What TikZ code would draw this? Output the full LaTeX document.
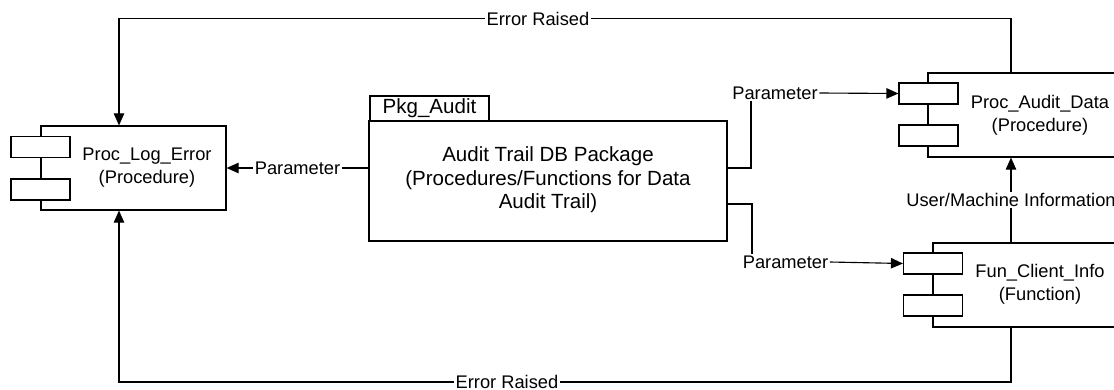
\documentclass[tikz,border=0pt]{standalone}
\usepackage{fontspec}
\setmainfont{Liberation Sans}
\usetikzlibrary{arrows.meta}

\tikzset{
  comp/.style={draw, line width=0.8pt, inner sep=0pt, minimum height=2.1cm},
  port/.style={draw, fill=white, line width=0.8pt, inner sep=0pt, minimum width=1.475cm, minimum height=0.525cm},
  txt/.style={font=\fontsize{13}{16.4}\selectfont, align=center, inner sep=1pt},
  bigtxt/.style={txt, font=\fontsize{14.6}{16.7}\selectfont},
  wire/.style={line width=0.8pt},
  arr/.style={wire, -{Triangle[length=3mm, width=2.6mm]}}
}

\begin{document}
\begin{tikzpicture}[x=0.025cm, y=-0.025cm]  % 1 unit = 1 pixel of the reference

    \useasboundingbox (0,0) rectangle (1114,389);

    % package box with its tab
    \node[comp, minimum width=8.95cm, minimum height=3cm] (pkg) at (548,181) {};
    \node[draw, line width=0.8pt, inner sep=0pt, minimum width=2.975cm, minimum height=0.625cm] (tab) at (429.5,108.5) {};
    \node[bigtxt] (tabtxt) at (tab) {Pkg\_Audit};
    \node[bigtxt] (pkgtxt) at (548,180) {Audit Trail DB Package\\(Procedures/Functions for Data\\Audit Trail)};

    % Proc_Log_Error
    \node[comp, minimum width=4.625cm] (log) at (133.5,168) {};
    \node[port] (logp1) at (40.5,147) {};
    \node[port] (logp2) at (40.5,189.5) {};
    \node[txt] (logtxt) at (147,168) {Proc\_Log\_Error\\(Procedure)};

    % Proc_Audit_Data
    \node[comp, minimum width=4.925cm] (aud) at (1026.5,115) {};
    \node[port] (audp1) at (928.5,93.5) {};
    \node[port] (audp2) at (928.5,135.5) {};
    \node[txt] (audtxt) at (1040,115) {Proc\_Audit\_Data\\(Procedure)};

    % Fun_Client_Info
    \node[comp, minimum width=4.925cm] (cli) at (1031.5,285) {};
    \node[port] (clip1) at (933,263.5) {};
    \node[port] (clip2) at (933,305.5) {};
    \node[txt] (clitxt) at (1040,284) {Fun\_Client\_Info\\(Function)};

    % labels
    \node[txt] (parL) at (297.5,168) {Parameter};
    \node[txt] (parA) at (775,93) {Parameter};
    \node[txt] (parC) at (785.5,262) {Parameter};
    \node[txt] (user) at (1011,200) {User/Machine Information};
    \node[txt] (errT) at (538,18.5) {Error Raised};
    \node[txt] (errB) at (507,382) {Error Raised};

    % corners of the wires
    \coordinate (pkgA) at (727,168);
    \coordinate (pkgC) at (727,204);
    \coordinate (cornTL) at (119,18.5);
    \coordinate (cornTR) at (1011,18.5);
    \coordinate (cornBL) at (119,382);
    \coordinate (cornBR) at (1011,382);

    % parameter to Proc_Log_Error
    \draw[wire] (pkg.west |- parL) -- (parL.east);
    \draw[arr] (parL.west) -- (log.east);

    % parameter to Proc_Audit_Data
    \draw[wire] (pkgA) -| (parA.south -| 751,0);
    \draw[arr] (parA.east) -- (audp1.west);

    % parameter to Fun_Client_Info
    \draw[wire] (pkgC) -| (parC.north -| 752,0);
    \draw[arr] (parC.east) -- (clip1.west);

    % user/machine information
    \draw[wire] (cli.north -| user) -- (user.south);
    \draw[arr] (user.north) -- (aud.south -| user);

    % errors raised
    \draw[wire] (aud.north -| cornTR) -- (cornTR) -- (errT.east);
    \draw[arr] (errT.west) -- (cornTL) -- (log.north -| cornTL);
    \draw[wire] (cli.south -| cornBR) -- (cornBR) -- (errB.east);
    \draw[arr] (errB.west) -- (cornBL) -- (log.south -| cornBL);

\end{tikzpicture}
\end{document}
